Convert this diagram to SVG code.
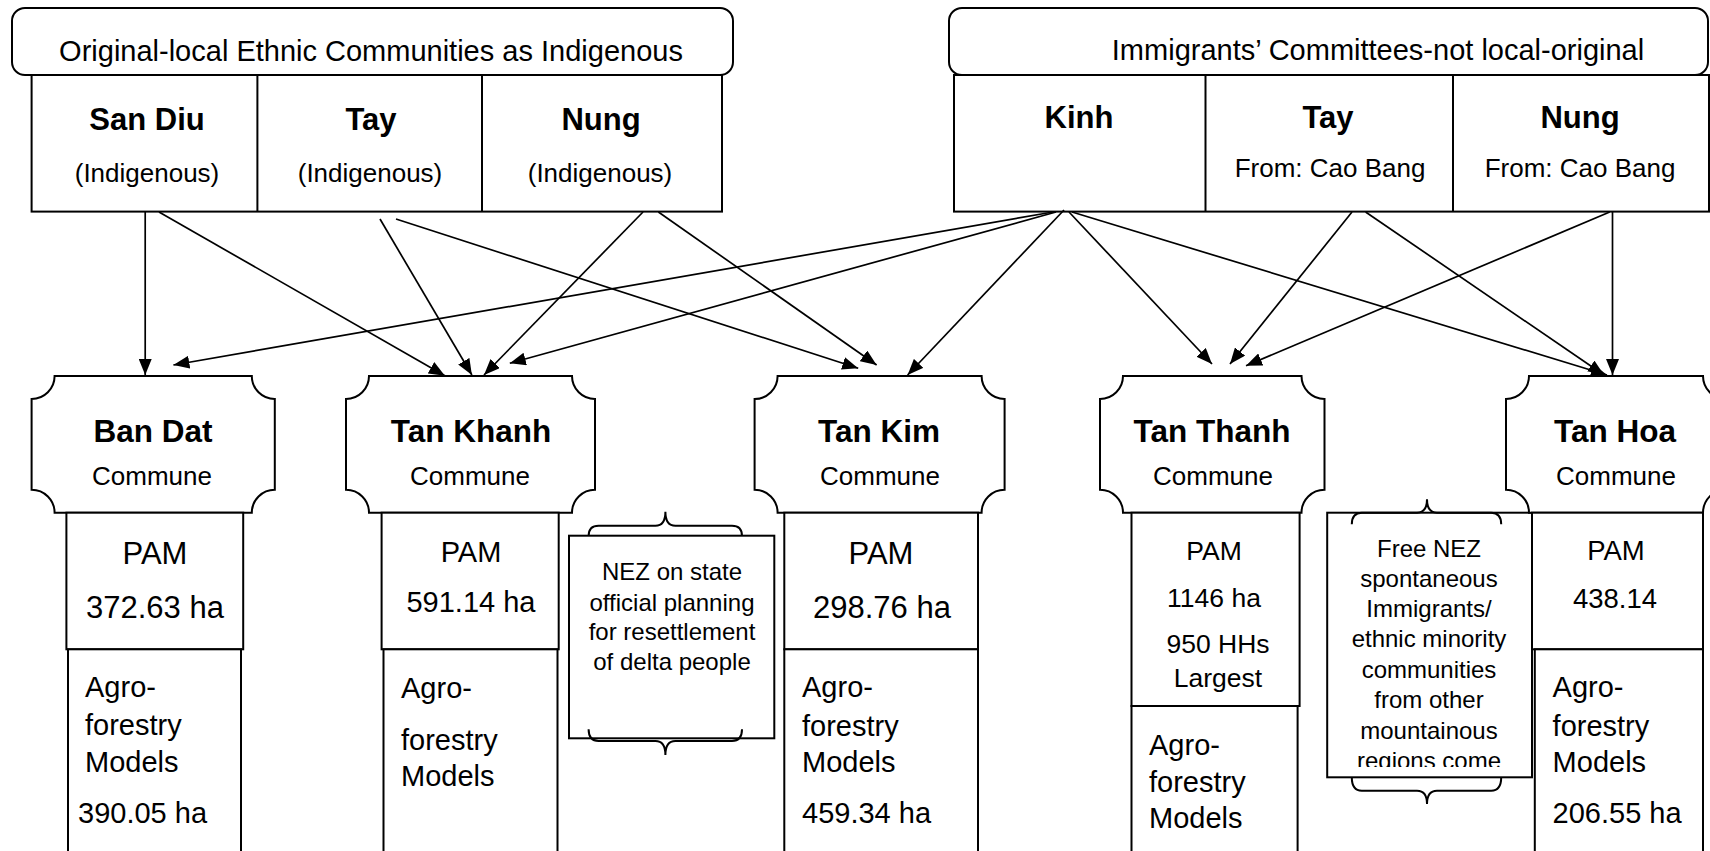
<svg xmlns="http://www.w3.org/2000/svg" width="1710" height="851" viewBox="0 0 1710 851">
<defs>
<style>
text { font-family: "Liberation Sans", Arial, Helvetica, sans-serif; fill: #000; }
.box { fill: #fff; stroke: #000; stroke-width: 2; }
.title { font-size: 29px; text-anchor: middle; }
.eth { font-size: 31px; font-weight: bold; text-anchor: middle; }
.sub { font-size: 26px; text-anchor: middle; }
.name { font-size: 31.5px; font-weight: bold; text-anchor: middle; }
.commune { font-size: 26px; text-anchor: middle; }
.mid { text-anchor: middle; }
.agro { font-size: 29px; }
.note { font-size: 24px; text-anchor: middle; }
.brace { fill: none; stroke: #000; stroke-width: 2; }
#connectors line { stroke: #000; stroke-width: 1.7; marker-end: url(#arrow); }
</style>
<marker id="arrow" viewBox="0 0 16 13" refX="16" refY="6.5" markerWidth="16" markerHeight="13" markerUnits="userSpaceOnUse" orient="auto">
<path d="M0,0 L16,6.5 L0,13 z" fill="#000"/>
</marker>
<clipPath id="freeClip"><rect x="1328" y="514" width="203" height="253"/></clipPath>
</defs>
<rect width="1710" height="851" fill="#fff"/>

<!-- indigenous communities header -->
<g id="indigenous">
<rect class="box" x="12" y="8" width="721" height="67" rx="13"/>
<text class="title" x="371" y="61">Original-local Ethnic Communities as Indigenous</text>
<rect class="box" x="31.6" y="75" width="690.4" height="136.6"/>
<line x1="257.4" y1="75" x2="257.4" y2="211.6" stroke="#000" stroke-width="2"/>
<line x1="482" y1="75" x2="482" y2="211.6" stroke="#000" stroke-width="2"/>
<text class="eth" x="147" y="130">San Diu</text>
<text class="eth" x="371" y="130">Tay</text>
<text class="eth" x="601" y="130">Nung</text>
<text class="sub" x="147" y="182">(Indigenous)</text>
<text class="sub" x="370" y="182">(Indigenous)</text>
<text class="sub" x="600" y="182">(Indigenous)</text>
</g>

<!-- immigrant communities header -->
<g id="immigrants">
<rect class="box" x="949" y="8" width="759" height="67" rx="13"/>
<text class="title" x="1378" y="60">Immigrants’ Committees-not local-original</text>
<rect class="box" x="954" y="75" width="755" height="136.6"/>
<line x1="1205.5" y1="75" x2="1205.5" y2="211.6" stroke="#000" stroke-width="2"/>
<line x1="1453" y1="75" x2="1453" y2="211.6" stroke="#000" stroke-width="2"/>
<text class="eth" x="1079" y="128">Kinh</text>
<text class="eth" x="1328" y="128">Tay</text>
<text class="eth" x="1580" y="128">Nung</text>
<text class="sub" x="1330" y="177">From: Cao Bang</text>
<text class="sub" x="1580" y="177">From: Cao Bang</text>
</g>

<!-- Ban Dat commune -->
<g id="ban-dat">
<path class="box" d="M54.6,376 H251.8 A23,23 0 0 0 274.8,399 V489.7 A23,23 0 0 0 251.8,512.7 H54.6 A23,23 0 0 0 31.6,489.7 V399 A23,23 0 0 0 54.6,376 Z"/>
<text class="name" x="153" y="442">Ban Dat</text>
<text class="commune" x="152" y="485">Commune</text>
<rect class="box" x="66.4" y="512.7" width="176.8" height="136.6"/>
<text class="mid" x="155" y="564" font-size="31">PAM</text>
<text class="mid" x="155" y="618" font-size="31">372.63 ha</text>
<rect class="box" x="68" y="649.3" width="173" height="215"/>
<text class="agro" x="85" y="697">Agro-</text>
<text class="agro" x="85" y="735">forestry</text>
<text class="agro" x="85" y="772">Models</text>
<text class="agro" x="78" y="823">390.05 ha</text>
</g>

<!-- Tan Khanh commune -->
<g id="tan-khanh">
<path class="box" d="M369,376 H572 A23,23 0 0 0 595,399 V489.7 A23,23 0 0 0 572,512.7 H369 A23,23 0 0 0 346,489.7 V399 A23,23 0 0 0 369,376 Z"/>
<text class="name" x="471" y="442">Tan Khanh</text>
<text class="commune" x="470" y="485">Commune</text>
<rect class="box" x="381.6" y="512.7" width="177.1" height="136.6"/>
<text class="mid" x="471" y="562" font-size="29">PAM</text>
<text class="mid" x="471" y="612" font-size="29">591.14 ha</text>
<rect class="box" x="383.5" y="649.3" width="174" height="215"/>
<text class="agro" x="401" y="698">Agro-</text>
<text class="agro" x="401" y="750">forestry</text>
<text class="agro" x="401" y="786">Models</text>
</g>

<!-- planned resettlement note -->
<g id="nez-planned">
<rect class="box" x="569" y="535.7" width="205.3" height="202.6"/>
<path class="brace" d="M588.6,536 Q588.6,525.7 598.6,525.7 H655.4 Q665.4,525.7 665.4,511.7 Q665.4,525.7 675.4,525.7 H732 Q742,525.7 742,536"/>
<path class="brace" d="M588.6,729.3 Q588.6,741 598.6,741 H655.4 Q665.4,741 665.4,755 Q665.4,741 675.4,741 H732 Q742,741 742,729.3"/>
<text class="note" x="672" y="580">NEZ on state</text>
<text class="note" x="672" y="610.5">official planning</text>
<text class="note" x="672" y="640">for resettlement</text>
<text class="note" x="672" y="670">of delta people</text>
</g>

<!-- Tan Kim commune -->
<g id="tan-kim">
<path class="box" d="M777.6,376 H981.6 A23,23 0 0 0 1004.6,399 V489.7 A23,23 0 0 0 981.6,512.7 H777.6 A23,23 0 0 0 754.6,489.7 V399 A23,23 0 0 0 777.6,376 Z"/>
<text class="name" x="879" y="442">Tan Kim</text>
<text class="commune" x="880" y="485">Commune</text>
<rect class="box" x="784.3" y="512.7" width="193.7" height="136.6"/>
<text class="mid" x="881" y="564" font-size="31">PAM</text>
<text class="mid" x="882" y="618" font-size="31">298.76 ha</text>
<rect class="box" x="784.3" y="649.3" width="193.7" height="215"/>
<text class="agro" x="802" y="697">Agro-</text>
<text class="agro" x="802" y="736">forestry</text>
<text class="agro" x="802" y="772">Models</text>
<text class="agro" x="802" y="823">459.34 ha</text>
</g>

<!-- Tan Thanh commune -->
<g id="tan-thanh">
<path class="box" d="M1123,376 H1301.5 A23,23 0 0 0 1324.5,399 V489.7 A23,23 0 0 0 1301.5,512.7 H1123 A23,23 0 0 0 1100,489.7 V399 A23,23 0 0 0 1123,376 Z"/>
<text class="name" x="1212" y="442">Tan Thanh</text>
<text class="commune" x="1213" y="485">Commune</text>
<rect class="box" x="1131.5" y="512.7" width="168.1" height="193.3"/>
<text class="mid" x="1214" y="560" font-size="26.5">PAM</text>
<text class="mid" x="1214" y="607" font-size="26.5">1146 ha</text>
<text class="mid" x="1218" y="653" font-size="26.5">950 HHs</text>
<text class="mid" x="1218" y="687" font-size="26.5">Largest</text>
<rect class="box" x="1131.5" y="706" width="166.1" height="160"/>
<text class="agro" x="1149" y="755">Agro-</text>
<text class="agro" x="1149" y="792">forestry</text>
<text class="agro" x="1149" y="828">Models</text>
</g>

<!-- spontaneous settlement note -->
<g id="nez-free">
<rect class="box" x="1327.2" y="512.7" width="204.8" height="264.6"/>
<path class="brace" d="M1351.8,524.3 Q1351.8,512.7 1361.8,512.7 H1417 Q1427,512.7 1427,499.3 Q1427,512.7 1437,512.7 H1491.2 Q1501.2,512.7 1501.2,524.3"/>
<path class="brace" d="M1351.8,777.3 Q1351.8,790.7 1361.8,790.7 H1417 Q1427,790.7 1427,804 Q1427,790.7 1437,790.7 H1491.2 Q1501.2,790.7 1501.2,777.3"/>
<g clip-path="url(#freeClip)">
<text class="note" x="1429" y="557">Free NEZ</text>
<text class="note" x="1429" y="587">spontaneous</text>
<text class="note" x="1429" y="617">Immigrants/</text>
<text class="note" x="1429" y="647">ethnic minority</text>
<text class="note" x="1429" y="677.5">communities</text>
<text class="note" x="1429" y="708">from other</text>
<text class="note" x="1429" y="738.5">mountainous</text>
<text class="note" x="1429" y="769">regions come</text>
</g>
</g>

<!-- Tan Hoa commune -->
<g id="tan-hoa">
<path class="box" d="M1529,376 H1703 A23,23 0 0 0 1726,399 V489.7 A23,23 0 0 0 1703,512.7 H1529 A23,23 0 0 0 1506,489.7 V399 A23,23 0 0 0 1529,376 Z"/>
<text class="name" x="1615" y="442">Tan Hoa</text>
<text class="commune" x="1616" y="485">Commune</text>
<rect class="box" x="1532" y="512.7" width="171" height="136.6"/>
<text class="mid" x="1616" y="560" font-size="27.5">PAM</text>
<text class="mid" x="1615" y="608" font-size="27.5">438.14</text>
<rect class="box" x="1534.8" y="649.3" width="168.2" height="215"/>
<text class="agro" x="1552.6" y="697">Agro-</text>
<text class="agro" x="1552.6" y="736">forestry</text>
<text class="agro" x="1552.6" y="772">Models</text>
<text class="agro" x="1552.6" y="823">206.55 ha</text>
</g>

<!-- arrows from communities to communes -->
<g id="connectors">
<line x1="145.2" y1="212" x2="145.2" y2="375"/>
<line x1="159" y1="212" x2="444.9" y2="375.7"/>
<line x1="380" y1="219" x2="471.9" y2="375"/>
<line x1="396" y1="219" x2="858.2" y2="368.3"/>
<line x1="643" y1="212" x2="484" y2="375"/>
<line x1="658.4" y1="212" x2="876.6" y2="365"/>
<line x1="1053" y1="212" x2="173.4" y2="365"/>
<line x1="1056" y1="212" x2="509.8" y2="363.3"/>
<line x1="1064" y1="210" x2="907.6" y2="375"/>
<line x1="1069" y1="212" x2="1212" y2="364"/>
<line x1="1072" y1="212" x2="1607" y2="375"/>
<line x1="1352" y1="212" x2="1230" y2="364"/>
<line x1="1365.6" y1="212" x2="1604" y2="375"/>
<line x1="1609.7" y1="212" x2="1246" y2="365.7"/>
<line x1="1612.5" y1="212" x2="1612.5" y2="375"/>
</g>
</svg>
